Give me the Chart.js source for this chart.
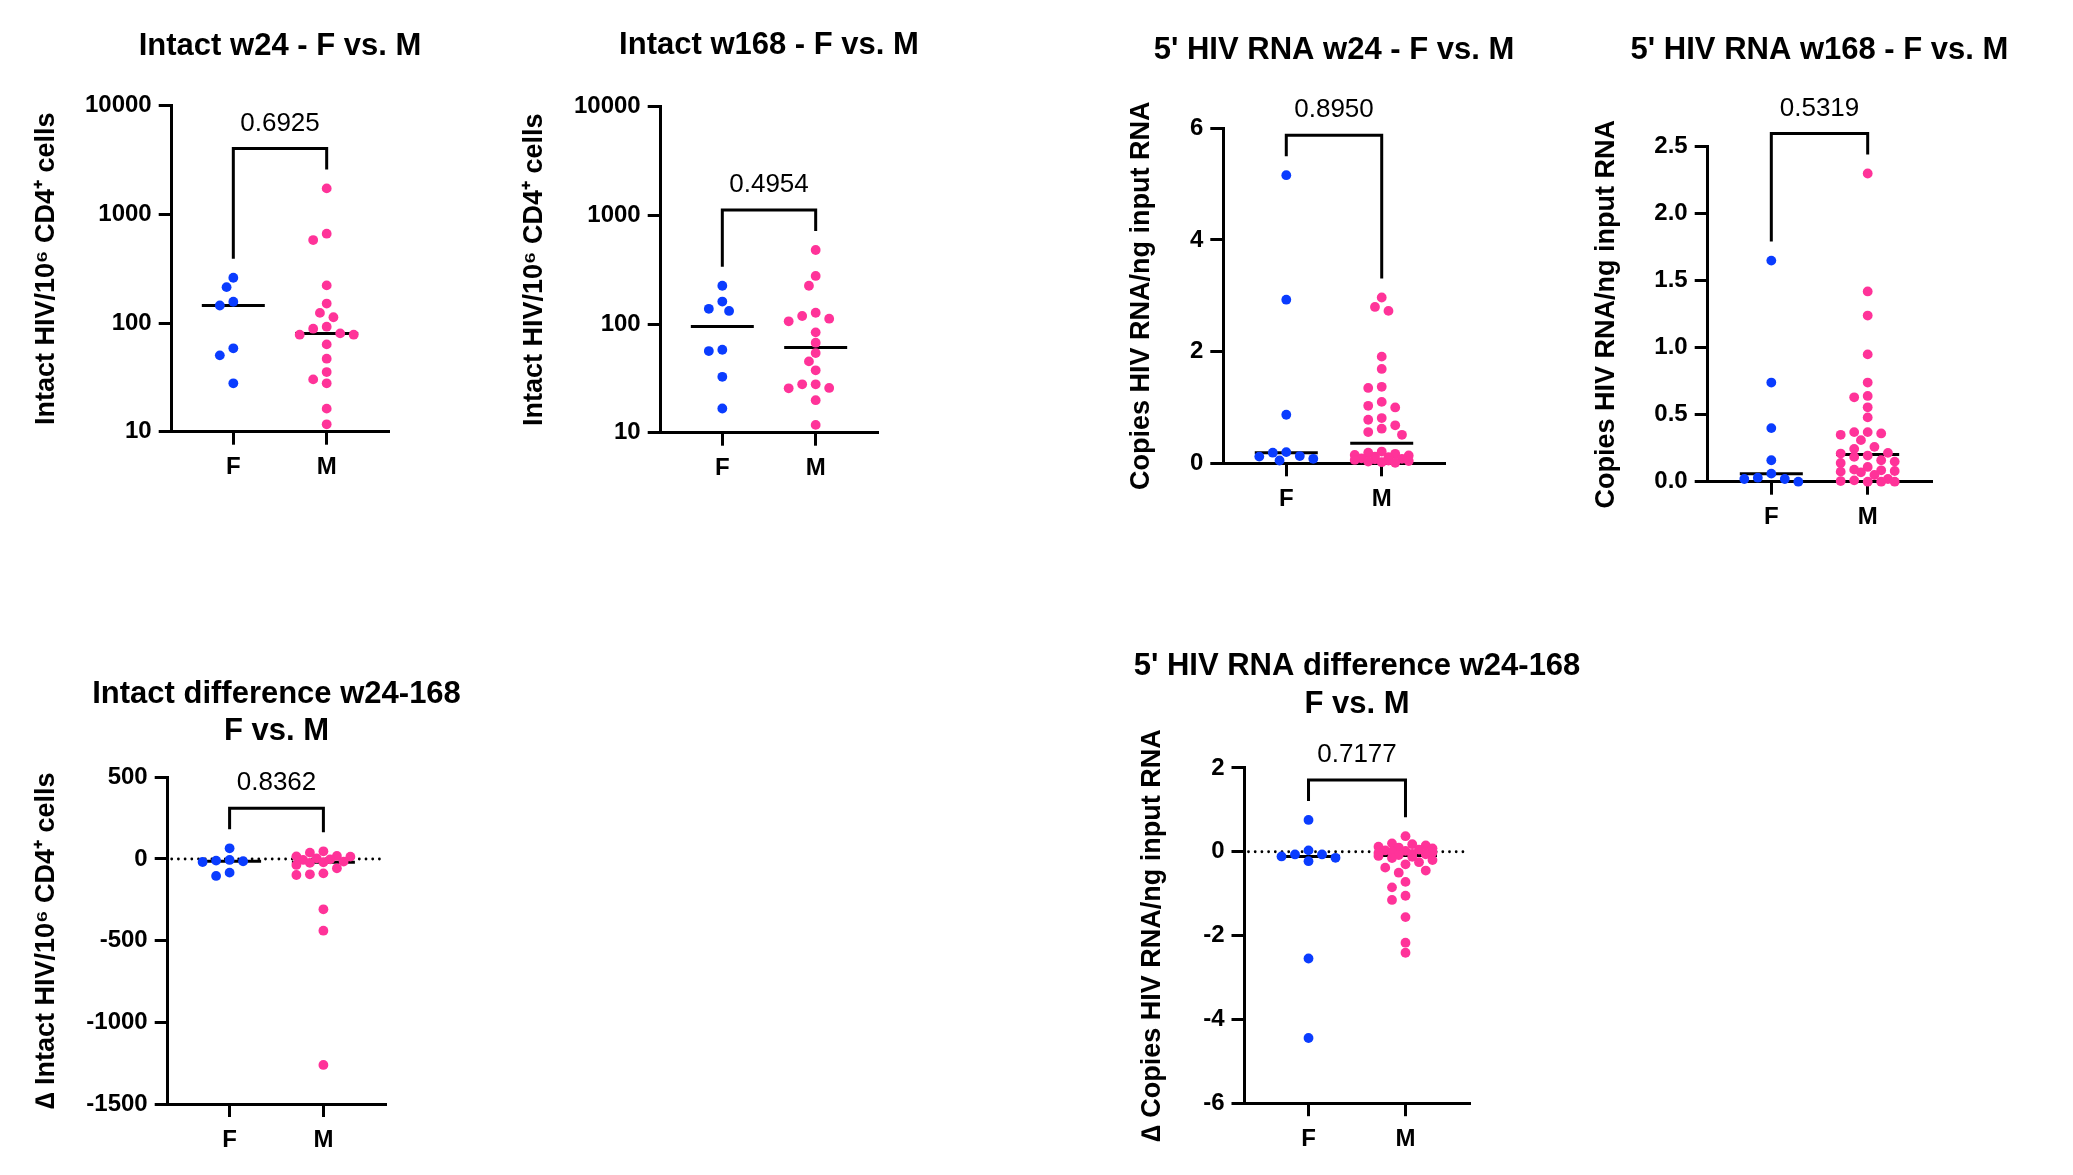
<!DOCTYPE html>
<html><head><meta charset="utf-8">
<script src="https://cdn.jsdelivr.net/npm/chart.js@4.4.1/dist/chart.umd.min.js"></script>
<style>
html,body{margin:0;padding:0;background:#fff;overflow:hidden;width:2073px;height:1175px;}
canvas{position:absolute;}
</style></head><body>
<script>
// ---------------- DATA ----------------
const categories = ['F', 'M'];

// Intact HIV/10^6 CD4+ cells, week 24
const intactW24F = [261, 214, 157, 145, 58.5, 50.4, 27.9];
const intactW24M = [1734, 664, 580, 222, 151, 124, 113, 92.5, 88.7, 80.3, 78.1, 78.1, 63.6, 47.0, 35.4, 30.3, 27.9, 16.3, 11.7];

// Intact HIV/10^6 CD4+ cells, week 168
const intactW168F = [225, 161, 138, 132, 58, 56.4, 32.7, 16.7];
const intactW168M = [480, 277, 225, 127, 118.5, 112, 106, 83.8, 67.3, 54.1, 45.3, 37.5, 27.9, 27.9, 25.8, 25.6, 19.9, 11.8];

// 5' HIV RNA copies / ng input RNA, week 24
const rnaW24F = [5.16, 2.93, 0.87, 0.20, 0.19, 0.13, 0.12, 0.08, 0.05];
const rnaW24M = [2.97, 2.80, 2.73, 1.91, 1.69, 1.37, 1.35, 1.10, 1.03, 1.00, 0.81, 0.78, 0.68, 0.62, 0.56, 0.51,
                 0.21, 0.19, 0.17, 0.15, 0.14, 0.12, 0.11, 0.09, 0.08, 0.07, 0.06, 0.05, 0.04, 0.03, 0.02, 0.01];

// 5' HIV RNA copies / ng input RNA, week 168
const rnaW168F = [1.65, 0.74, 0.40, 0.16, 0.06, 0.03, 0.02, 0.02, 0.0];
const rnaW168M = [2.30, 1.42, 1.24, 0.95, 0.74, 0.64, 0.63, 0.555, 0.48, 0.37, 0.37, 0.36, 0.35, 0.31, 0.26, 0.245, 0.215, 0.21,
                  0.195, 0.185, 0.16, 0.15, 0.14, 0.11, 0.09, 0.085, 0.08, 0.075, 0.07, 0.05, 0.02, 0.01, 0.005, 0, 0, 0];

// Difference w24-168, intact
const intactDiffF = [65.3, -6.1, -10.2, -14, -18.4, -83.7, -104];
const intactDiffM = [47, 38.8, 18.4, 16, 14.3, 4, -2, -6, -16, -20, -24, -36.7, -57, -88, -94, -98, -308, -439, -1261];

// Difference w24-168, 5' HIV RNA
const rnaDiffF = [0.758, 0.032, -0.065, -0.065, -0.113, -0.145, -0.226, -2.548, -4.444];
const rnaDiffM = [0.37, 0.2, 0.18, 0.15, 0.12, 0.1, 0.08, 0.05, 0.03, 0.02, 0.0, -0.02, -0.03, -0.05, -0.06, -0.08,
                  -0.1, -0.12, -0.15, -0.2, -0.25, -0.3, -0.38, -0.45, -0.5, -0.72, -0.85, -1.05, -1.15, -1.56, -2.17, -2.41];

const pValues = ['0.6925', '0.4954', '0.8950', '0.5319', '0.8362', '0.7177'];

const titles = [
  'Intact w24 - F vs. M',
  'Intact w168 - F vs. M',
  "5' HIV RNA w24 - F vs. M",
  "5' HIV RNA w168 - F vs. M",
  ['Intact difference w24-168', 'F vs. M'],
  ["5' HIV RNA difference w24-168", 'F vs. M']
];
const yTitles = [
  'Intact HIV/10\u2076 CD4\u207A cells',
  'Intact HIV/10\u2076 CD4\u207A cells',
  'Copies HIV RNA/ng input RNA',
  'Copies HIV RNA/ng input RNA',
  '\u2206 Intact HIV/10\u2076 CD4\u207A cells',
  '\u2206 Copies HIV RNA/ng input RNA'
];

const logTicks = [10, 100, 1000, 10000];
const logTickLabels = ['10', '100', '1000', '10000'];
const rnaW24Ticks = [0, 2, 4, 6];
const rnaW24TickLabels = ['0', '2', '4', '6'];
const rnaW168Ticks = [0, 0.5, 1, 1.5, 2, 2.5];
const rnaW168TickLabels = ['0.0', '0.5', '1.0', '1.5', '2.0', '2.5'];
const intactDiffTicks = [-1500, -1000, -500, 0, 500];
const intactDiffTickLabels = ['-1500', '-1000', '-500', '0', '500'];
const rnaDiffTicks = [-6, -4, -2, 0, 2];
const rnaDiffTickLabels = ['-6', '-4', '-2', '0', '2'];

// ---------------- STYLE / LAYOUT ----------------
const FONT = "'Liberation Sans', Arial, Helvetica, sans-serif";
const BLUE = '#0A3CFF', PINK = '#FF3399';
const DOT_R = 4.9;
Chart.defaults.font.family = FONT;
Chart.defaults.color = '#000';

const LAYOUT = [
  {l:171.7, r:388, t:105.7, b:431.7, titleY:46.3, yTitleX:46.7, W:150},
  {l:660.7, r:877, t:106.7, b:432.7, titleY:45.8, yTitleX:535, W:150},
  {l:1223.3, r:1445, t:128.3, b:463.3, titleY:50.5, yTitleX:1142, W:120},
  {l:1707.7, r:1931.7, t:146.7, b:481.7, titleY:50.5, yTitleX:1606.7, W:125},
  {l:167.7, r:385, t:777.3, b:1104, titleY:694.6, yTitleX:46.7, W:150},
  {l:1244.5, r:1469, t:767.9, b:1103.2, titleY:666.8, yTitleX:1152.3, W:140}
];

const panels = [
  {F:intactW24F, M:intactW24M, type:'logarithmic', min:10, max:10000, ticks:logTicks, labels:logTickLabels, zero:false},
  {F:intactW168F, M:intactW168M, type:'logarithmic', min:10, max:10000, ticks:logTicks, labels:logTickLabels, zero:false},
  {F:rnaW24F, M:rnaW24M, type:'linear', min:0, max:6, ticks:rnaW24Ticks, labels:rnaW24TickLabels, zero:false},
  {F:rnaW168F, M:rnaW168M, type:'linear', min:0, max:2.5, ticks:rnaW168Ticks, labels:rnaW168TickLabels, zero:false},
  {F:intactDiffF, M:intactDiffM, type:'linear', min:-1500, max:500, ticks:intactDiffTicks, labels:intactDiffTickLabels, zero:true},
  {F:rnaDiffF, M:rnaDiffM, type:'linear', min:-6, max:2, ticks:rnaDiffTicks, labels:rnaDiffTickLabels, zero:true}
];

function median(a) {
  const s = [...a].sort((x, y) => x - y), n = s.length;
  return n % 2 ? s[(n - 1) / 2] : (s[n / 2 - 1] + s[n / 2]) / 2;
}

// beeswarm offsets in pixels
function swarmOffsets(pys, step, maxOff, D) {
  const order = pys.map((y, i) => i).sort((a, b) => pys[a] - pys[b]);
  const cands = [0];
  for (let k = 1; k * step <= maxOff + 0.01; k++) cands.push(-k * step, k * step);
  const placed = [], offs = new Array(pys.length);
  for (const i of order) {
    let best = 0, bestCost = Infinity;
    for (const c of cands) {
      let cost = 0;
      for (const p of placed) {
        const d = Math.hypot(c - p.x, pys[i] - p.y);
        if (d < D) cost += (D - d);
      }
      if (cost < bestCost - 1e-9) { bestCost = cost; best = c; }
      if (cost === 0) break;
    }
    offs[i] = best;
    placed.push({x: best, y: pys[i]});
  }
  return offs;
}

const annotPlugin = {
  id: 'annot',
  beforeDatasetsDraw(chart, args, opts) {
    const {ctx, chartArea} = chart;
    const xs = chart.scales.x, ys = chart.scales.y;
    ctx.save();
    if (opts.zero) {
      const y0 = ys.getPixelForValue(0);
      ctx.beginPath();
      ctx.setLineDash([0, 6.7]);
      ctx.lineCap = 'round';
      ctx.lineWidth = 2.8;
      ctx.strokeStyle = '#000';
      ctx.moveTo(chartArea.left + 4, y0);
      ctx.lineTo(chartArea.right, y0);
      ctx.stroke();
      ctx.setLineDash([]);
    }
    ctx.lineCap = 'butt';
    ctx.lineWidth = 3;
    ctx.strokeStyle = '#000';
    chart.data.datasets.forEach((ds, g) => {
      const y = ys.getPixelForValue(median(ds.rawValues));
      const x = xs.getPixelForValue(g);
      ctx.beginPath();
      ctx.moveTo(x - 31.5, y);
      ctx.lineTo(x + 31.5, y);
      ctx.stroke();
    });
    ctx.restore();
  },
  afterDatasetsDraw(chart, args, opts) {
    const {ctx} = chart;
    const xs = chart.scales.x, ys = chart.scales.y;
    const legs = chart.data.datasets.map(ds => ys.getPixelForValue(Math.max(...ds.rawValues)) - 19);
    const xsPix = chart.data.datasets.map((ds, g) => xs.getPixelForValue(g));
    const barY = Math.min(...legs) - 21;
    ctx.save();
    ctx.strokeStyle = '#000';
    ctx.lineWidth = 3;
    ctx.lineJoin = 'miter';
    ctx.beginPath();
    ctx.moveTo(xsPix[0], legs[0]);
    ctx.lineTo(xsPix[0], barY);
    ctx.lineTo(xsPix[1], barY);
    ctx.lineTo(xsPix[1], legs[1]);
    ctx.stroke();
    ctx.fillStyle = '#000';
    ctx.font = '26px ' + FONT;
    ctx.textAlign = 'center';
    ctx.textBaseline = 'middle';
    ctx.fillText(opts.p, (xsPix[0] + xsPix[1]) / 2, barY - 25);
    ctx.restore();
  }
};

const gridOpts = {display:true, drawOnChartArea:false, drawTicks:true, tickLength:13, tickWidth:3, tickColor:'#000', color:'#000', lineWidth:3};
const borderOpts = {display:true, color:'#000', width:3};

panels.forEach((p, idx) => {
  const L = LAYOUT[idx];
  const cl = Math.round(L.l - L.W);
  const W = L.l - cl;
  const cw = Math.round(L.r - cl + W);
  const lines = Array.isArray(titles[idx]) ? titles[idx].length : 1;
  const lh = 31 * 1.2;
  const ct = Math.round(L.titleY - lh / 2 - 2);
  const pt = L.titleY - lh / 2 - ct;
  const pb = L.t - ct - pt - lines * lh;
  const ch = Math.round(L.b - ct + 70);
  const xH = ch - (L.b - ct);
  const tp = L.yTitleX - cl - 27 * 1.2 / 2;

  const canvas = document.createElement('canvas');
  canvas.width = cw; canvas.height = ch;
  canvas.style.left = cl + 'px'; canvas.style.top = ct + 'px';
  canvas.style.width = cw + 'px'; canvas.style.height = ch + 'px';
  document.body.appendChild(canvas);

  const groups = [p.F, p.M];
  const colors = [BLUE, PINK];
  const chart = new Chart(canvas, {
    type: 'scatter',
    data: {
      datasets: groups.map((vals, g) => ({
        label: categories[g],
        rawValues: vals,
        data: vals.map(v => ({x: g, y: v})),
        backgroundColor: colors[g],
        pointBackgroundColor: colors[g],
        pointBorderWidth: 0,
        borderWidth: 0,
        pointRadius: DOT_R,
        pointHoverRadius: DOT_R,
        clip: false
      }))
    },
    options: {
      responsive: false,
      animation: false,
      devicePixelRatio: 1,
      events: [],
      layout: {padding: 0, autoPadding: false},
      plugins: {
        legend: {display: false},
        tooltip: {enabled: false},
        title: {display: true, text: titles[idx], color: '#000',
                font: {family: FONT, size: 31, weight: 'bold', lineHeight: 1.2},
                padding: {top: pt, bottom: pb}},
        annot: {p: pValues[idx], zero: p.zero}
      },
      scales: {
        x: {
          type: 'linear', position: 'bottom', min: -0.66, max: 1.66,
          afterBuildTicks: s => { s.ticks = categories.map((c, i) => ({value: i})); },
          afterFit: s => { s.height = xH; },
          ticks: {callback: v => categories[v], font: {size: 24, weight: 'bold'}, color: '#000', padding: 8.5, maxRotation: 0, autoSkip: false},
          grid: gridOpts, border: borderOpts
        },
        y: {
          type: p.type, position: 'left', min: p.min, max: p.max,
          afterBuildTicks: s => { s.ticks = p.ticks.map(v => ({value: v})); },
          afterFit: s => { s.width = W; },
          ticks: {callback: v => p.labels[p.ticks.indexOf(v)], font: {size: 24, weight: 'bold'}, color: '#000', padding: 7, autoSkip: false},
          grid: gridOpts, border: borderOpts,
          title: {display: true, text: yTitles[idx], color: '#000',
                  font: {size: 27, weight: 'bold', lineHeight: 1.2}, padding: {top: tp, bottom: 0}}
        },
        yR: {
          type: 'linear', position: 'right', display: true,
          afterFit: s => { s.width = W; },
          ticks: {display: false}, grid: {display: false}, border: {display: false}
        }
      }
    },
    plugins: [annotPlugin]
  });

  // beeswarm placement through the chart's own scales
  const xs = chart.scales.x, ys = chart.scales.y;
  const pxPerUnit = xs.getPixelForValue(1) - xs.getPixelForValue(0);
  chart.data.datasets.forEach((ds, g) => {
    const pys = ds.rawValues.map(v => ys.getPixelForValue(v));
    const offs = swarmOffsets(pys, 6.75, 27, 10);
    ds.data = ds.rawValues.map((v, i) => ({x: g + offs[i] / pxPerUnit, y: v}));
  });
  chart.update('none');
});
</script>
</body></html>
